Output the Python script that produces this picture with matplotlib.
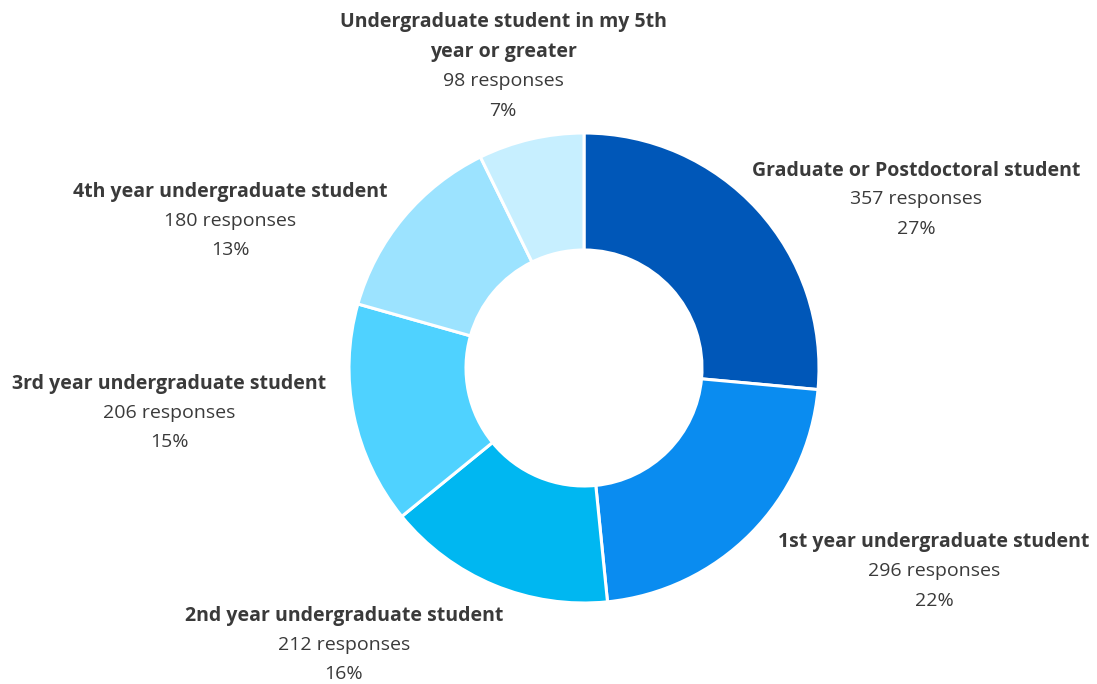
import matplotlib.pyplot as plt

categories = [
    "Graduate or Postdoctoral student",
    "1st year undergraduate student",
    "2nd year undergraduate student",
    "3rd year undergraduate student",
    "4th year undergraduate student",
    "Undergraduate student in my 5th\nyear or greater",
]
responses = [357, 296, 212, 206, 180, 98]
percents = [27, 22, 16, 15, 13, 7]
colors = ["#0057B8", "#0A8CF0", "#00B7F1", "#4FD2FF", "#9CE3FF", "#C7EFFF"]

# label anchor (centre x, middle of first line y) in pixel coords
label_pos = [(916, 168), (934, 540), (344, 613), (169, 381), (230, 189), (503, 20)]

W, H = 1097, 684
fig = plt.figure(figsize=(W / 100, H / 100), dpi=100)
ax = fig.add_axes([0, 0, 1, 1])
ax.set_xlim(0, W)
ax.set_ylim(H, 0)
ax.axis("off")

# pie drawn in a separate axes so it is not flipped
pax = fig.add_axes([0, 0, 1, 1])
pax.pie(responses, colors=colors, startangle=90, counterclock=False,
        center=(584, H - 368), radius=235,
        wedgeprops=dict(width=117, edgecolor="white", linewidth=2.2))
pax.set_xlim(0, W)
pax.set_ylim(0, H)
pax.set_aspect("auto")
pax.axis("off")

fam = ["Open Sans", "DejaVu Sans"]
line_h = 29.5
for cat, n, p, (x, y) in zip(categories, responses, percents, label_pos):
    lines = cat.split("\n")
    for i, ln in enumerate(lines):
        ax.text(x, y + i * line_h, ln, ha="center", va="center_baseline",
                fontsize=14, fontweight="bold", color="#3a3a3a", family=fam)
    k = len(lines)
    ax.text(x, y + k * line_h, f"{n} responses", ha="center",
            va="center_baseline", fontsize=14, color="#3a3a3a", family=fam)
    ax.text(x, y + (k + 1) * line_h, f"{p}%", ha="center",
            va="center_baseline", fontsize=14, color="#3a3a3a", family=fam)

fig.savefig("out.png", dpi=100)
